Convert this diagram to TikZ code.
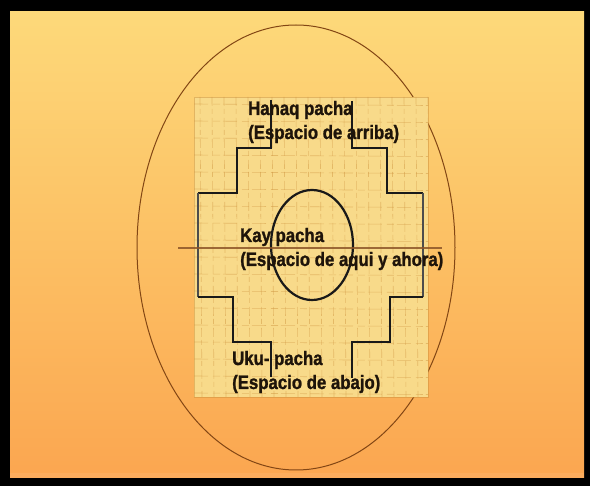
\documentclass[tikz,border=0pt]{standalone}
\usepackage{fontspec}
\newfontfamily\lab[FakeStretch=0.86,FakeBold=1.2]{Liberation Sans Bold}
\definecolor{bgtop}{RGB}{253,217,122}
\definecolor{bgmid}{RGB}{252,192,100}
\definecolor{bgbot}{RGB}{251,166,80}
\definecolor{rectfill}{RGB}{248,218,138}
\definecolor{texcol}{RGB}{205,145,60}
\definecolor{ellcol}{RGB}{130,70,20}
\definecolor{hline}{RGB}{140,85,40}
\definecolor{txt}{RGB}{30,20,10}
\tikzset{
  chak/.style={line width=2.4pt, draw=black!90, line join=miter},
  chakside/.style={line width=1.8pt, draw=black!70},
  lbl/.style={anchor=base west, inner sep=0pt, text=txt, font=\lab\fontsize{19.5}{24}\selectfont},
  tex/.style={draw=texcol, line width=0.6pt, opacity=0.45}
}
\begin{document}
\begin{tikzpicture}[x=1pt,y=-1pt]
\useasboundingbox (0,0) rectangle (590,486);
% frame
\fill[black] (0,0) rectangle (590,486);
\shade[top color=bgtop, bottom color=bgbot, middle color=bgmid] (10,12) rectangle (584,478);
\fill[bgbot!85!white, opacity=0.5] (10,473) rectangle (584,478);
% big ellipse
\draw[ellcol, line width=1pt] (296,247.5) ellipse [x radius=159, y radius=222.5];
% textured square
\fill[rectfill] (194,97) rectangle (428,397);
\begin{scope}
\clip (194,97) rectangle (428,397);
\foreach \x in {200,212,...,428} {
  \draw[tex, dash pattern=on 9pt off 3pt on 5pt off 4pt] (\x,97) -- (\x+2,397);
}
\foreach \y in {104,121,...,397} {
  \draw[tex, dash pattern=on 14pt off 5pt on 7pt off 3pt] (194,\y) -- (428,\y+1.5);
}
\end{scope}
\draw[texcol, line width=0.8pt, opacity=0.5] (194,97) rectangle (428,397);
% chakana outline
\draw[chak] (271,100) -- (271,148) -- (237,148) -- (237,193) -- (198,193);
\draw[chak] (352,101) -- (352,148) -- (387,148) -- (387,193) -- (423,193);
\draw[chakside] (198,193) -- (198,297);
\draw[chakside] (423,193) -- (423,297);
\draw[chak] (198,297) -- (233,297) -- (233,342) -- (271,342) -- (271,377);
\draw[chak] (423,297) -- (390,297) -- (390,342) -- (352,342) -- (352,378);
% centre circle
\draw[line width=2.2pt, black!90] (312,245) ellipse [x radius=41, y radius=55];
% horizontal line
\coordinate (hl) at (178,248);
\coordinate (hr) at (442,248);
\draw[hline, line width=1.6pt, opacity=0.85] (hl) -- (hr);
% labels
\node[lbl] (h1) at (248,115) {Hanaq pacha};
\node[lbl] (h2) at (248,139) {(Espacio de arriba)};
\node[lbl] (k1) at (240,242) {Kay pacha};
\node[lbl] (k2) at (240,266) {(Espacio de aqui y ahora)};
\node[lbl] (u1) at (232,365) {Uku- pacha};
\node[lbl] (u2) at (232,389) {(Espacio de abajo)};
\end{tikzpicture}
\end{document}
